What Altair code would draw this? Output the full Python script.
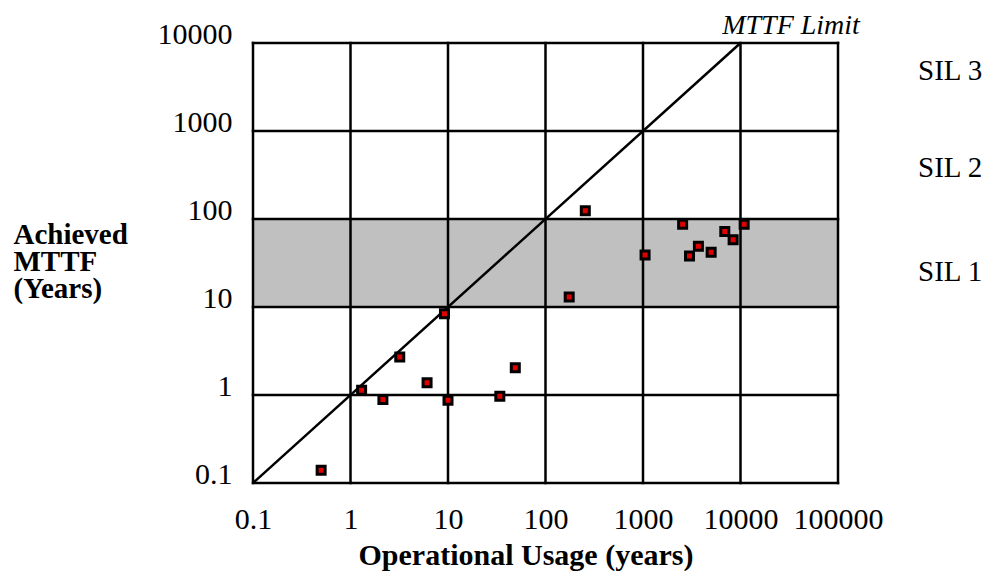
import altair as alt
import pandas as pd

# ---- data ----
usage = [0.5, 1.3, 2.15, 3.2, 6.1, 9.2, 10, 34, 49, 175, 256, 1050, 2550, 3000, 3700, 5000, 6900, 8400, 10900]
mttf = [0.14, 1.13, 0.89, 2.7, 1.38, 8.4, 0.87, 0.97, 2.04, 13, 124, 39, 87, 38, 49, 42, 72, 58, 87]
x_ticks = [0.1, 1, 10, 100, 1000, 10000, 100000]
y_ticks = [0.1, 1, 10, 100, 1000, 10000]
sil1_band = [10, 100]
limit_line = [0.1, 10000]
sil_labels = ["SIL 3", "SIL 2", "SIL 1"]
limit_label = "MTTF Limit"

FONT = "Liberation Serif"
xs = alt.Scale(type="log", domain=[0.1, 100000], nice=False)
ys = alt.Scale(type="log", domain=[0.1, 10000], nice=False)

x_title = "Operational Usage (years)"
y_title = ["Achieved", "MTTF", "(Years)"]

x_axis = alt.Axis(values=x_ticks, labelExpr="'' + datum.value", grid=False, domain=False,
                  ticks=False, tickSize=0, labelPadding=21, labelFont=FONT, labelFontSize=30,
                  labelColor="black", labelOverlap=False, labelFlush=False,
                  title=x_title, titleFont=FONT, titleFontSize=30,
                  titleFontWeight="bold", titleColor="black", titleX=105, titleY=81,
                  titleAlign="left", titleBaseline="alphabetic")
y_axis = alt.Axis(values=y_ticks, labelExpr="'' + datum.value", grid=False, domain=False,
                  ticks=False, tickSize=0, labelPadding=21, labelFont=FONT, labelFontSize=30,
                  labelColor="black", labelOverlap=False, labelFlush=False,
                  labelBaseline="alphabetic", labelAlign="right",
                  title=y_title, titleFont=FONT, titleFontSize=29,
                  titleFontWeight="bold", titleColor="black", titleAngle=0, titleAlign="left",
                  titleBaseline="alphabetic", titleX=-240, titleY=200, titleLineHeight=27)


def X(f="x"):
    return alt.X(f"{f}:Q", scale=xs, axis=x_axis, title=x_title)


def Y(f="y"):
    return alt.Y(f"{f}:Q", scale=ys, axis=y_axis, title=y_title)


pts_df = pd.DataFrame({"x": usage, "y": mttf})
band_df = pd.DataFrame({"x": [x_ticks[0]], "x2": [x_ticks[-1]], "y": [sil1_band[0]], "y2": [sil1_band[1]]})
vgrid_df = pd.DataFrame({"x": x_ticks})
hgrid_df = pd.DataFrame({"y": y_ticks})
line_df = pd.DataFrame({"x": limit_line, "y": limit_line})

band_layer = alt.Chart(band_df).mark_rect(color="#c0c0c0").encode(
    x=X(), x2="x2", y=Y(), y2="y2")

vgrid = alt.Chart(vgrid_df).mark_rule(color="black", strokeWidth=2.5, strokeCap="square").encode(
    x=X())
hgrid = alt.Chart(hgrid_df).mark_rule(color="black", strokeWidth=2.5, strokeCap="square").encode(
    y=Y())

diag = alt.Chart(line_df).mark_line(color="black", strokeWidth=2.5).encode(x=X(), y=Y())

points = alt.Chart(pts_df).mark_square(color="#e00000", stroke="black", strokeWidth=3,
                                        size=64, opacity=1).encode(x=X(), y=Y())

limit_text = alt.Chart(pd.DataFrame({"t": [limit_label]})).mark_text(
    font=FONT, fontSize=28, fontStyle="italic", align="center", baseline="alphabetic",
    color="black").encode(text="t:N", x=alt.value(538), y=alt.value(-9))

sil_layers = []
for lab, ypix in zip(sil_labels, [37, 134, 238]):
    sil_layers.append(
        alt.Chart(pd.DataFrame({"t": [lab]})).mark_text(
            font=FONT, fontSize=29, align="left", baseline="alphabetic", color="black"
        ).encode(text="t:N", x=alt.value(665), y=alt.value(ypix))
    )

chart = alt.layer(band_layer, vgrid, hgrid, diag, points, limit_text, *sil_layers).properties(
    width=585, height=440,
    padding={"left": 245, "top": 35, "right": 146, "bottom": 88},
    autosize="none",
).configure_view(stroke=None).configure(background="white")

chart.save("out.html", embed_options={"renderer": "svg", "actions": False})
